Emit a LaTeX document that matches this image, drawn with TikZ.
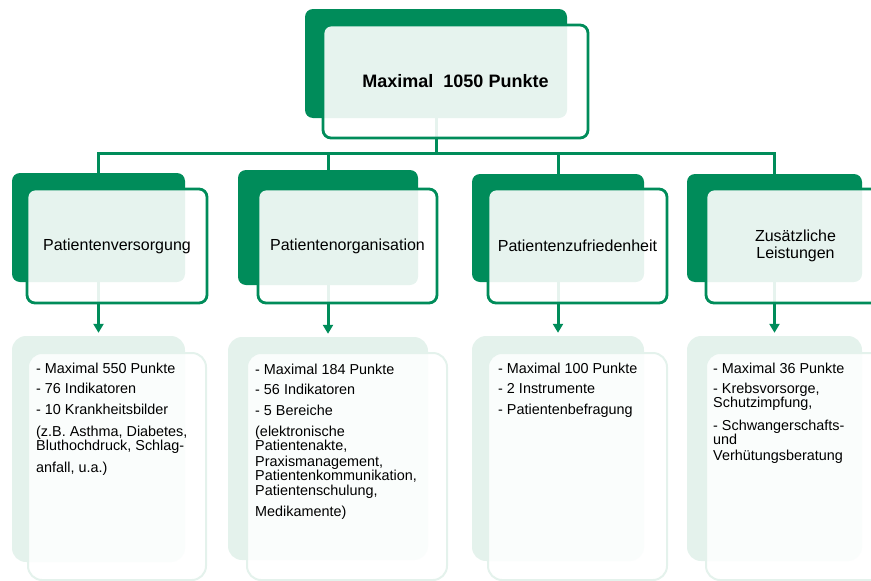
\documentclass[tikz,border=0pt]{standalone}
\usepackage{fontspec}
\setmainfont{Liberation Sans}
\usetikzlibrary{arrows.meta}
\usetikzlibrary{backgrounds}
\definecolor{pgreen}{RGB}{0,140,90}
\definecolor{pmint}{RGB}{228,242,236}
\tikzset{
    backbox/.style = {rectangle, rounded corners=8pt, fill=pgreen, inner sep=0pt},
    frontbox/.style = {rectangle, rounded corners=8pt, line width=2.8pt, draw=pgreen, fill=white, fill opacity=0.9, text opacity=1, inner sep=0pt, align=center, font=\fontsize{16}{17}\selectfont},
    detback/.style = {rectangle, rounded corners=14pt, fill=pmint, inner sep=0pt},
    detfront/.style = {rectangle, rounded corners=14pt, line width=2pt, draw=pmint, fill=white, fill opacity=0.85, inner sep=0pt},
    dettext/.style = {anchor=north west, inner sep=0pt, align=left, font=\fontsize{14.4}{14}\selectfont},
    edgen/.style = {line width=3pt, draw=pgreen},
    edgea/.style = {line width=3pt, draw=pgreen, -{Triangle[length=9pt,width=10pt]}, shorten >=3pt} % to details
}
\begin{document}
\begin{tikzpicture}[x=1pt,y=-1pt]
\useasboundingbox (0,0) rectangle (871,581);
%
\node[backbox, minimum width=262, minimum height=109] at (436,63.5) (topb) {};
\node[frontbox, minimum width=265, minimum height=113, font=\fontsize{18}{20}\selectfont\bfseries] at (455.5,81.5) (top) {Maximal~~1050 Punkte};
%
\node[backbox, minimum width=173, minimum height=109] at (98.5,227.5) (c1b) {};
\node[frontbox, minimum width=180, minimum height=114] at (117,246) (c1) {Patientenversorgung};
\node[backbox, minimum width=180, minimum height=115] at (328,227.5) (c2b) {};
\node[frontbox, minimum width=179, minimum height=114] at (347.5,246) (c2) {Patientenorganisation};
\node[backbox, minimum width=172, minimum height=108] at (558,228) (c3b) {};
\node[frontbox, minimum width=179, minimum height=114] at (577.5,246) (c3) {Patientenzufriedenheit};
\node[backbox, minimum width=175, minimum height=108] at (774.5,228) (c4b) {};
\node[frontbox, minimum width=179, minimum height=114] at (795.5,246) (c4) {Zusätzliche\\Leistungen};
%
\node[detback, minimum width=173, minimum height=226] at (98.5,449) (d1b) {};
\node[detfront, minimum width=178, minimum height=227] at (117,466.5) (d1) {};
\node[detback, minimum width=200, minimum height=223] at (328,448.5) (d2b) {};
\node[detfront, minimum width=200, minimum height=227] at (347,466.5) (d2) {};
\node[detback, minimum width=172, minimum height=225] at (558,448.5) (d3b) {};
\node[detfront, minimum width=179, minimum height=227] at (577.5,466.5) (d3) {};
\node[detback, minimum width=175, minimum height=225] at (774.5,448.5) (d4b) {};
\node[detfront, minimum width=179, minimum height=227] at (795.5,466.5) (d4) {};
%
\node[dettext] at ([shift={(9,11)}]d1.north west) (d1t) {- Maximal 550 Punkte\\[6pt]- 76 Indikatoren\\[7pt]- 10 Krankheitsbilder\\[8pt](z.B. Asthma, Diabetes,\\Bluthochdruck, Schlag-\\[8pt]anfall, u.a.)};
\node[dettext] at ([shift={(9,12)}]d2.north west) (d2t) {- Maximal 184 Punkte\\[6pt]- 56 Indikatoren\\[7pt]- 5 Bereiche\\[7pt](elektronische\\Patientenakte,\\[2pt]Praxismanagement,\\Patientenkommunikation,\\[1pt]Patientenschulung,\\[7pt]Medikamente)};
\node[dettext] at ([shift={(11,11)}]d3.north west) (d3t) {- Maximal 100 Punkte\\[6pt]- 2 Instrumente\\[7pt]- Patientenbefragung};
\node[dettext] at ([shift={(8,11)}]d4.north west) (d4t) {- Maximal 36 Punkte\\[6pt]- Krebsvorsorge,\\Schutzimpfung,\\[9pt]- Schwangerschafts-\\und\\[2pt]Verhütungsberatung};
%
\begin{scope}[on background layer]
\draw[edgen] (topb.south) -- ++(0,35) -| (c1b.north);
\draw[edgen] (topb.south) -- ++(0,35) -| (c2b.north);
\draw[edgen] (topb.south) -- ++(0,35) -| (c3b.north);
\draw[edgen] (topb.south) -- ++(0,35) -| (c4b.north);
\draw[edgea] (c1b.south) -- (d1b.north);
\draw[edgea] (c2b.south) -- (d2b.north);
\draw[edgea] (c3b.south) -- (d3b.north);
\draw[edgea] (c4b.south) -- (d4b.north);
\end{scope}
\end{tikzpicture}
\end{document}
